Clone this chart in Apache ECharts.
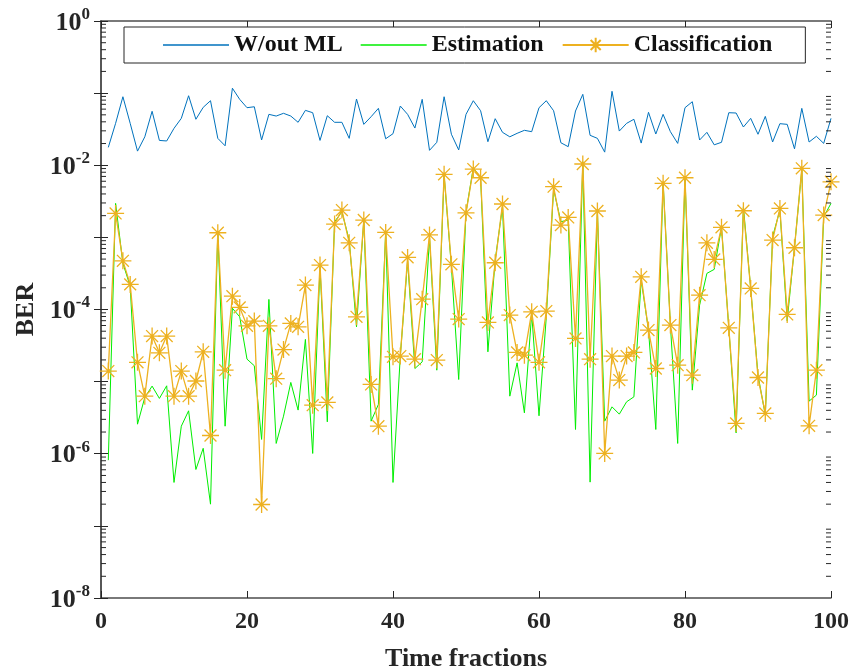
<!DOCTYPE html>
<html>
<head>
<meta charset="utf-8">
<script src="https://cdn.jsdelivr.net/npm/echarts@6/dist/echarts.min.js"></script>
<style>
html,body{margin:0;padding:0;background:#fff;}
#chart{width:853px;height:672px;}
</style>
</head>
<body>
<div id="chart"></div>
<script>
// Time fraction index 1..100
const timeFractions = Array.from({length: 100}, (_, i) => i + 1);
const xTicks = [0, 20, 40, 60, 80, 100];
const yTickExponents = [0, -2, -4, -6, -8];
const seriesNames = ['W/out ML', 'Estimation', 'Classification'];

const berWithoutML = [0.0177,0.0381,0.0891,0.0381,0.0157,0.0248,0.056,0.0221,0.0217,0.0325,
0.0447,0.092,0.0434,0.0635,0.0785,0.0236,0.0186,0.117,0.082,0.0628,
0.0647,0.0224,0.0508,0.0481,0.0525,0.0481,0.0394,0.0577,0.0535,0.0221,
0.0486,0.0394,0.0394,0.0236,0.0828,0.0369,0.0471,0.0615,0.0233,0.0274,
0.0662,0.0508,0.0328,0.082,0.0161,0.0208,0.0891,0.0269,0.0163,0.0508,
0.0785,0.057,0.0212,0.0442,0.0286,0.0248,0.0277,0.0305,0.0292,0.0628,
0.0785,0.057,0.0205,0.0181,0.0565,0.0962,0.026,0.0236,0.0152,0.106,
0.0298,0.0381,0.0434,0.0203,0.0542,0.0271,0.0508,0.0292,0.0201,0.0628,
0.076,0.0224,0.0286,0.0192,0.0208,0.0535,0.053,0.0339,0.0447,0.0269,
0.0476,0.021,0.0377,0.0369,0.0169,0.0615,0.021,0.0252,0.0201,0.0447];

const berEstimation = [8.15e-7,2.96e-3,4.36e-4,2.11e-4,2.57e-6,6.04e-6,8.67e-6,5.85e-6,8.75e-6,4.00e-7,
2.41e-6,3.94e-6,6.05e-7,1.19e-6,2.00e-7,1.22e-3,2.41e-6,1.04e-4,7.92e-5,2.05e-5,
1.66e-5,1.58e-6,1.38e-4,1.39e-6,3.32e-6,9.75e-6,4.03e-6,3.85e-5,1.01e-6,3.91e-4,
2.77e-6,1.65e-3,2.26e-3,9.18e-4,5.75e-5,1.74e-3,2.83e-6,4.83e-6,1.20e-3,4.00e-7,
2.26e-5,4.73e-4,1.52e-5,1.88e-5,1.00e-3,1.44e-5,7.31e-3,3.91e-4,1.07e-5,2.24e-3,
9.23e-3,6.71e-3,2.59e-5,4.84e-4,2.66e-3,6.29e-6,1.82e-5,3.69e-6,8.83e-5,3.36e-6,
7.92e-5,4.63e-3,1.65e-3,1.74e-3,2.17e-6,1.12e-2,4.04e-7,2.32e-3,2.83e-6,4.47e-6,
3.54e-6,5.25e-6,6.15e-6,2.56e-4,5.18e-5,2.17e-6,5.90e-3,6.08e-5,1.39e-6,6.92e-3,
7.62e-6,1.15e-4,3.17e-4,3.60e-4,1.38e-3,5.57e-5,1.95e-6,2.66e-3,1.96e-4,1.23e-5,
3.43e-6,1.02e-3,2.39e-3,6.97e-5,7.34e-4,8.57e-3,5.37e-6,6.50e-6,1.93e-3,2.96e-3];

const berClassification = [1.40e-5,2.15e-3,4.73e-4,2.23e-4,1.85e-5,6.29e-6,4.28e-5,2.51e-5,4.28e-5,6.29e-6,
1.40e-5,6.29e-6,1.02e-5,2.59e-5,1.79e-6,1.16e-3,1.44e-5,1.53e-4,1.07e-4,5.94e-5,
6.90e-5,1.98e-7,5.94e-5,1.10e-5,2.78e-5,6.41e-5,5.75e-5,2.18e-4,4.72e-6,4.13e-4,
5.15e-6,1.53e-3,2.39e-3,8.41e-4,7.92e-5,1.74e-3,9.14e-6,2.41e-6,1.17e-3,2.21e-5,
2.26e-5,5.28e-4,2.05e-5,1.39e-4,1.08e-3,1.99e-5,7.48e-3,4.23e-4,7.36e-5,2.19e-3,
8.86e-3,6.71e-3,6.62e-5,4.45e-4,2.90e-3,8.36e-5,2.54e-5,2.33e-5,9.29e-5,1.85e-5,
9.51e-5,5.04e-3,1.48e-3,1.89e-3,3.97e-5,1.04e-2,2.05e-5,2.32e-3,1.01e-6,2.26e-5,
1.05e-5,2.26e-5,2.54e-5,2.84e-4,5.18e-5,1.52e-5,5.61e-3,6.08e-5,1.69e-5,6.71e-3,
1.23e-5,1.58e-4,8.41e-4,4.95e-4,1.38e-3,5.57e-5,2.63e-6,2.34e-3,1.96e-4,1.14e-5,
3.62e-6,9.18e-4,2.52e-3,8.55e-5,7.18e-4,9.06e-3,2.44e-6,1.44e-5,2.04e-3,5.90e-3];

// minor (log) tick values of the y axis: k * 10^e
const minorTickValues = [];
for (let e = -8; e < 0; e++) {
  for (let k = 2; k <= 9; k++) minorTickValues.push(k * Math.pow(10, e));
}

const FONT = 'Liberation Serif';
const TXT = '#262626';
const AX = '#4d4d4d';

const pairs = arr => arr.map((v, i) => [timeFractions[i], v]);

const starPath = 'path://M0,10L20,10M10,0L10,20M3,3L17,17M17,3L3,17';
const lineIcon = 'path://M0,0L66,0L66,1.4L0,1.4Z';

const chart = echarts.init(document.getElementById('chart'), null, {renderer: 'canvas'});

const yAxisBase = {
  type: 'log', logBase: 10, min: 1e-8, max: 1, splitNumber: 8,
  axisLine: {show: true, lineStyle: {color: AX, width: 1.5}},
  axisTick: {show: true, inside: true, length: 7, lineStyle: {color: TXT, width: 1}},
  splitLine: {show: false},
  minorTick: {show: false}
};

const xAxisBase = {
  type: 'value', min: 0, max: 100, interval: 20,
  axisLine: {show: true, onZero: false, lineStyle: {color: AX, width: 1.5}},
  axisTick: {show: true, inside: true, length: 7, lineStyle: {color: TXT, width: 1}},
  splitLine: {show: false}
};

const option = {
  animation: false,
  backgroundColor: '#ffffff',
  grid: {left: 101, right: 22, top: 21, bottom: 74, containLabel: false, outerBoundsMode: 'none'},
  legend: {
    data: [
      {name: seriesNames[0], icon: lineIcon},
      {name: seriesNames[1], icon: lineIcon},
      {name: seriesNames[2]}
    ],
    left: 124, top: 27,
    padding: [6, 33, 6, 39],
    itemWidth: 66, itemHeight: 18, itemGap: 18,
    borderColor: '#262626', borderWidth: 1,
    backgroundColor: '#ffffff',
    textStyle: {fontFamily: FONT, fontWeight: 'bold', fontSize: 24, color: '#111'}
  },
  xAxis: [
    Object.assign({}, xAxisBase, {
      position: 'bottom',
      name: 'Time fractions', nameLocation: 'middle', nameGap: 48,
      nameTextStyle: {fontFamily: FONT, fontWeight: 'bold', fontSize: 26, color: TXT},
      axisLabel: {show: true, margin: 12, fontFamily: FONT, fontWeight: 'bold', fontSize: 24, color: TXT,
        formatter: v => (xTicks.indexOf(v) >= 0 ? String(v) : '')}
    }),
    Object.assign({}, xAxisBase, {position: 'top', axisLabel: {show: false}})
  ],
  yAxis: [
    Object.assign({}, yAxisBase, {
      position: 'left',
      name: 'BER', nameLocation: 'middle', nameGap: 62,
      nameTextStyle: {fontFamily: FONT, fontWeight: 'bold', fontSize: 26, color: TXT},
      axisLabel: {
        show: true, margin: 11,
        formatter: function (v) {
          const e = Math.round(Math.log10(v));
          if (yTickExponents.indexOf(e) < 0) return '';
          return '{b|10}{s|' + e + '}';
        },
        rich: {
          b: {fontFamily: FONT, fontWeight: 'bold', fontSize: 26, color: TXT, verticalAlign: 'bottom', lineHeight: 30},
          s: {fontFamily: FONT, fontWeight: 'bold', fontSize: 17, color: TXT, verticalAlign: 'top', lineHeight: 30, padding: [0, 0, 10, 0]}
        }
      }
    }),
    Object.assign({}, yAxisBase, {position: 'right', axisLabel: {show: false}})
  ],
  series: [
    {
      name: 'W/out ML', type: 'line', xAxisIndex: 0, yAxisIndex: 0,
      data: pairs(berWithoutML),
      symbol: 'none',
      lineStyle: {color: '#0072BD', width: 1},
      itemStyle: {color: '#0072BD'},
      z: 3
    },
    {
      name: 'Estimation', type: 'line', xAxisIndex: 0, yAxisIndex: 0,
      data: pairs(berEstimation),
      symbol: 'none',
      lineStyle: {color: '#00ee00', width: 1},
      itemStyle: {color: '#00ee00'},
      z: 4
    },
    {
      name: 'Classification', type: 'line', xAxisIndex: 0, yAxisIndex: 0,
      data: pairs(berClassification),
      symbol: starPath, symbolSize: 17, showAllSymbol: true,
      lineStyle: {color: '#EDB120', width: 1.3},
      itemStyle: {color: '#EDB120', borderColor: '#EDB120', borderWidth: 1.3},
      z: 5
    },
    {
      name: 'minorTicks', type: 'custom', xAxisIndex: 0, yAxisIndex: 0,
      silent: true, z: 6,
      data: minorTickValues.map(v => [0, v]),
      renderItem: function (params, api) {
        const y = api.value(1);
        const pL = api.coord([0, y]);
        const pR = api.coord([100, y]);
        const st = {stroke: TXT, lineWidth: 1};
        return {
          type: 'group',
          children: [
            {type: 'line', shape: {x1: pL[0], y1: pL[1], x2: pL[0] + 5, y2: pL[1]}, style: st},
            {type: 'line', shape: {x1: pR[0], y1: pR[1], x2: pR[0] - 5, y2: pR[1]}, style: st}
          ]
        };
      }
    }
  ]
};

chart.setOption(option);
</script>
</body>
</html>
